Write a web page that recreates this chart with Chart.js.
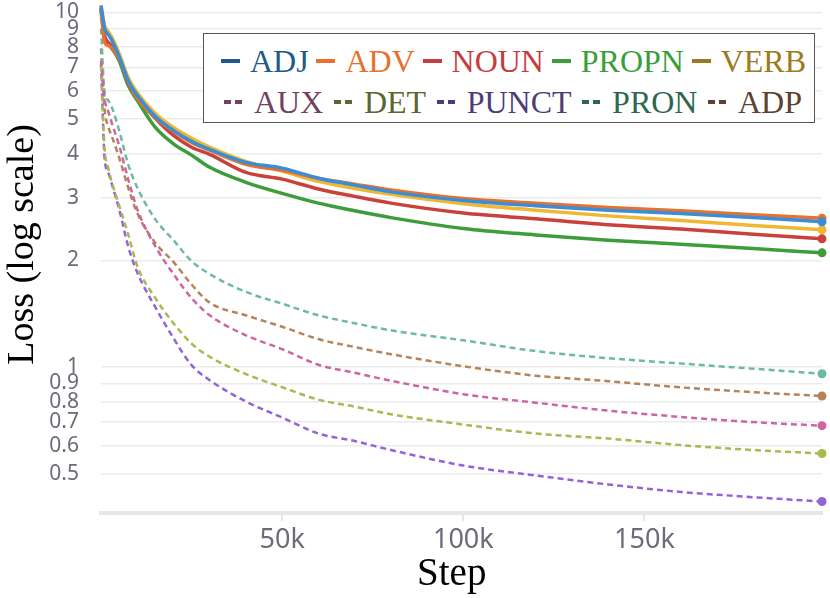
<!DOCTYPE html>
<html>
<head>
<meta charset="utf-8">
<script src="https://cdn.jsdelivr.net/npm/chart.js@4.4.1/dist/chart.umd.min.js"></script>
<style>
    html, body { margin: 0; padding: 0; background: #fff; }
    #wrap { position: relative; width: 830px; height: 598px; }
    #legend {
        position: absolute; left: 203px; top: 33px; width: 612px; height: 90px;
        box-sizing: border-box; border: 1.5px solid #555; background: #fff;
        font-family: "Liberation Serif", "Times New Roman", serif; font-size: 32px;
    }
    .row { position: absolute; left: 17px; right: 8px; display: flex; justify-content: space-between; align-items: center; height: 36px; }
    .row1 { top: 9px; }
    .row2 { top: 50px; left: 20px; right: 12px; }
    .item { display: flex; align-items: center; white-space: nowrap; }
    .solid { width: 19px; height: 4px; margin-right: 10px; }
    .dash { display: flex; margin-right: 8px; }
    .dash span { width: 7px; height: 4px; margin-right: 4px; }
</style>
</head>
<body>
<div id="wrap">
    <canvas id="lossChart" width="830" height="598"></canvas>
    <div id="legend"><div class="row row1" id="row1"></div><div class="row row2" id="row2"></div></div>
</div>
<script>
// training steps (x) and loss per POS tag (log-scale y)
const steps = [0, 1000, 2000, 3000, 5000, 7500, 10000, 15000, 20000, 25000, 30000, 40000, 50000,
    60000, 70000, 80000, 100000, 120000, 140000, 160000, 180000, 199000];

const adj   = [10.46, 9.01, 8.67, 8.34, 7.52, 6.43, 5.84, 5.09, 4.65, 4.33, 4.11, 3.78, 3.64, 3.41, 3.26, 3.12, 2.95, 2.85, 2.77, 2.71, 2.64, 2.57];
const adv   = [10.33, 8.23, 8.07, 7.92, 7.42, 6.39, 5.73, 5.06, 4.62, 4.30, 4.09, 3.73, 3.59, 3.41, 3.28, 3.16, 2.99, 2.90, 2.82, 2.76, 2.69, 2.63];
const noun  = [10.26, 8.61, 8.23, 8.02, 7.42, 6.35, 5.76, 5.03, 4.50, 4.17, 3.98, 3.54, 3.39, 3.18, 3.03, 2.90, 2.72, 2.62, 2.52, 2.45, 2.37, 2.30];
const propn = [10.13, 8.45, 8.12, 7.92, 7.32, 6.23, 5.65, 4.74, 4.26, 3.96, 3.66, 3.32, 3.09, 2.90, 2.76, 2.64, 2.46, 2.36, 2.28, 2.22, 2.16, 2.10];
const verb  = [10.46, 9.19, 8.84, 8.51, 7.66, 6.56, 5.95, 5.19, 4.74, 4.42, 4.17, 3.80, 3.57, 3.34, 3.19, 3.07, 2.89, 2.77, 2.67, 2.59, 2.51, 2.44];
const aux   = [7.32, 5.69, 5.26, 4.87, 4.22, 3.39, 2.79, 2.19, 1.83, 1.565, 1.40, 1.23, 1.124, 1.016, 0.964, 0.916, 0.839, 0.794, 0.754, 0.724, 0.700, 0.684];
const det   = [7.09, 4.14, 3.64, 3.32, 2.86, 2.37, 1.93, 1.565, 1.33, 1.165, 1.07, 0.956, 0.878, 0.810, 0.774, 0.737, 0.689, 0.650, 0.629, 0.603, 0.584, 0.571];
const punct = [7.18, 3.88, 3.54, 3.28, 2.79, 2.19, 1.85, 1.476, 1.207, 1.013, 0.919, 0.800, 0.721, 0.650, 0.619, 0.584, 0.528, 0.495, 0.467, 0.445, 0.430, 0.418];
const pron  = [9.01, 5.95, 5.65, 5.40, 4.65, 3.73, 3.21, 2.61, 2.28, 1.99, 1.83, 1.63, 1.51, 1.40, 1.33, 1.27, 1.19, 1.11, 1.06, 1.024, 0.990, 0.958];
const adp   = [7.92, 5.33, 4.77, 4.47, 3.90, 3.21, 2.72, 2.24, 1.98, 1.71, 1.52, 1.40, 1.30, 1.20, 1.14, 1.088, 1.006, 0.946, 0.913, 0.877, 0.850, 0.829];

const yTicks = [0.5, 0.6, 0.7, 0.8, 0.9, 1, 2, 3, 4, 5, 6, 7, 8, 9, 10];
const yTickLabels = ['0.5', '0.6', '0.7', '0.8', '0.9', '1', '2', '3', '4', '5', '6', '7', '8', '9', '10'];
const xTicks = [50000, 100000, 150000];
const xTickLabels = ['50k', '100k', '150k'];

// name, values, line colour, legend text colour, dashed?
const series = [
    ['ADJ',   adj,   '#3a8ed8', '#1f5a8c', false],
    ['ADV',   adv,   '#e8712d', '#e8712d', false],
    ['NOUN',  noun,  '#c9413b', '#c83c3c', false],
    ['PROPN', propn, '#3c9d3a', '#3a9e3a', false],
    ['VERB',  verb,  '#f0b832', '#9c7a22', false],
    ['AUX',   aux,   '#cc66a3', '#74405f', true],
    ['DET',   det,   '#a9b94f', '#5c6630', true],
    ['PUNCT', punct, '#9463d6', '#4e3c78', true],
    ['PRON',  pron,  '#6dbb9f', '#2e6650', true],
    ['ADP',   adp,   '#b5845a', '#5c4030', true]
];

const datasets = series.map(function(s) {
    return {
        label: s[0],
        data: steps.map(function(x, i) { return { x: x, y: s[1][i] }; }),
        borderColor: s[2],
        backgroundColor: s[2],
        borderWidth: s[4] ? 2.5 : 3.5,
        borderDash: s[4] ? [6, 4] : [],
        pointRadius: function(ctx) { return ctx.dataIndex === steps.length - 1 ? 4.5 : 0; },
        pointBorderWidth: 0,
        cubicInterpolationMode: 'monotone',
        clip: false
    };
});

// HTML legend
series.forEach(function(s, i) {
    const item = document.createElement('div');
    item.className = 'item';
    let mark;
    if (s[4]) {
        mark = document.createElement('div');
        mark.className = 'dash';
        for (let k = 0; k < 2; k++) {
            const d = document.createElement('span');
            d.style.background = s[3];
            mark.appendChild(d);
        }
    } else {
        mark = document.createElement('div');
        mark.className = 'solid';
        mark.style.background = s[3];
    }
    const txt = document.createElement('span');
    txt.textContent = s[0];
    txt.style.color = s[3];
    item.appendChild(mark);
    item.appendChild(txt);
    document.getElementById(i < 5 ? 'row1' : 'row2').appendChild(item);
});

const tickColor = '#6b6b7a';

new Chart(document.getElementById('lossChart'), {
    type: 'line',
    data: { datasets: datasets },
    options: {
        responsive: false,
        animation: false,
        layout: { padding: { left: 0, right: 8, top: 4, bottom: 0 } },
        plugins: {
            legend: { display: false },
            tooltip: { enabled: false }
        },
        scales: {
            x: {
                type: 'linear',
                min: 0,
                max: 199000,
                afterBuildTicks: function(scale) {
                    scale.ticks = xTicks.map(function(v) { return { value: v }; });
                },
                afterFit: function(scale) {
                    scale.height = 85;
                    scale.paddingLeft = 0;
                    scale.paddingRight = 0;
                },
                ticks: {
                    autoSkip: false,
                    maxRotation: 0,
                    padding: 3,
                    color: tickColor,
                    font: { family: 'Noto Sans', size: 27 },
                    callback: function(v) { return xTickLabels[xTicks.indexOf(v)]; }
                },
                grid: {
                    drawOnChartArea: false,
                    drawTicks: true,
                    tickLength: 8,
                    color: '#e6e6e6',
                    lineWidth: 2
                },
                border: { display: true, color: '#e6e6e6', width: 4 },
                title: {
                    display: true,
                    text: 'Step  ',   // trailing spaces nudge the title left like the original
                    color: '#000',
                    padding: { top: 0, bottom: 0 },
                    font: { family: 'Liberation Serif', size: 39 }
                }
            },
            y: {
                type: 'logarithmic',
                min: 0.388,
                max: 10.53,
                afterBuildTicks: function(scale) {
                    scale.ticks = yTicks.map(function(v) { return { value: v }; });
                },
                afterFit: function(scale) {
                    scale.width = 101;
                    scale.paddingTop = 0;
                    scale.paddingBottom = 0;
                },
                ticks: {
                    autoSkip: false,
                    padding: 22,
                    color: tickColor,
                    font: { family: 'Noto Sans', size: 21 },
                    callback: function(v) { return yTickLabels[yTicks.indexOf(v)]; }
                },
                grid: {
                    drawTicks: false,
                    color: '#ebebeb',
                    lineWidth: 1.5
                },
                border: { display: false },
                title: {
                    display: true,
                    text: '   Loss (log scale)',   // leading spaces lift the title a bit
                    color: '#000',
                    padding: { top: 0, bottom: 0 },
                    font: { family: 'Liberation Serif', size: 38 }
                }
            }
        }
    }
});
</script>
</body>
</html>
